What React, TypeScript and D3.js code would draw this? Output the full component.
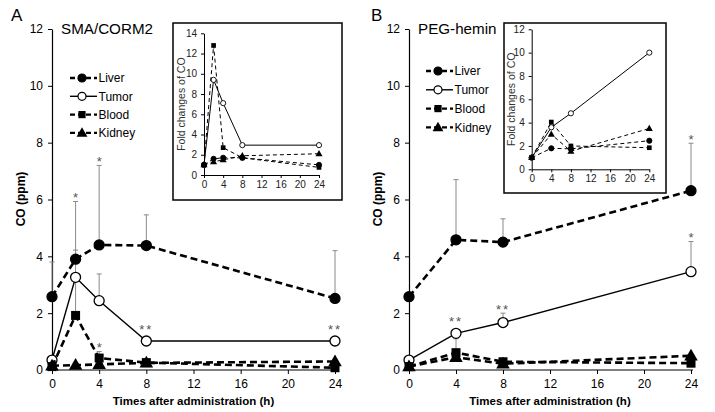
import { useEffect, useRef } from 'react'
import * as d3 from 'd3'

// --- data ---
const seriesNames = ['Liver', 'Tumor', 'Blood', 'Kidney']

// Panel A: SMA/CORM2
const timesA = [0, 2, 4, 8, 24]
const liverA = [2.58, 3.9, 4.4, 4.38, 2.52]
const tumorA = [0.35, 3.26, 2.44, 1.02, 1.02]
const bloodA = [0.12, 1.92, 0.42, 0.26, 0.08]
const kidneyA = [0.15, 0.17, 0.2, 0.25, 0.3]
const liverErrA = [3.8, 5.93, 7.2, 5.46, 4.2]
const tumorErrA = [null, 4.22, 3.38, null, null]
const bloodErrA = [null, 3.2, 0.65, null, null]
const kidneyErrA = [null, null, null, null, null]
const starsA = [
  { series: 'Liver', t: 2, label: '*' },
  { series: 'Liver', t: 4, label: '*' },
  { series: 'Blood', t: 4, label: '*' },
  { series: 'Tumor', t: 8, label: '**' },
  { series: 'Tumor', t: 24, label: '**' },
]
const foldLiverA = [1.0, 1.6, 1.7, 1.7, 1.0]
const foldTumorA = [1.0, 9.4, 7.1, 2.95, 2.95]
const foldBloodA = [1.0, 12.8, 2.7, 1.7, 0.75]
const foldKidneyA = [1.0, 1.3, 1.5, 1.9, 2.1]

// Panel B: PEG-hemin
const timesB = [0, 4, 8, 24]
const liverB = [2.58, 4.58, 4.5, 6.31]
const tumorB = [0.35, 1.29, 1.67, 3.46]
const bloodB = [0.12, 0.61, 0.29, 0.24]
const kidneyB = [0.12, 0.45, 0.22, 0.5]
const liverErrB = [null, 6.7, 5.32, 7.98]
const tumorErrB = [null, null, 2.0, 4.52]
const bloodErrB = [null, 1.1, null, null]
const kidneyErrB = [null, null, null, null]
const starsB = [
  { series: 'Tumor', t: 4, label: '**' },
  { series: 'Tumor', t: 8, label: '**' },
  { series: 'Tumor', t: 24, label: '*' },
  { series: 'Liver', t: 24, label: '*' },
]
const foldLiverB = [1.0, 1.8, 1.75, 2.45]
const foldTumorB = [1.0, 3.6, 4.8, 10.0]
const foldBloodB = [1.0, 4.05, 2.0, 1.85]
const foldKidneyB = [1.0, 3.0, 1.55, 3.5]

const xTicks = [0, 4, 8, 12, 16, 20, 24]
const mainYTicks = [0, 2, 4, 6, 8, 10, 12]

const FONT = '"Liberation Sans", Arial, sans-serif'

const styles = {
  Liver: { marker: 'circle', fill: '#000', dash: '7,4' },
  Tumor: { marker: 'circle', fill: '#fff', dash: null },
  Blood: { marker: 'square', fill: '#000', dash: '7,4' },
  Kidney: { marker: 'triangle', fill: '#000', dash: '7,4' },
}

const drawMarker = (g, kind, cx, cy, r, fill, sw) => {
  if (kind === 'circle') {
    g.append('circle').attr('cx', cx).attr('cy', cy).attr('r', r)
      .attr('fill', fill).attr('stroke', '#000').attr('stroke-width', sw)
  } else if (kind === 'square') {
    g.append('rect').attr('x', cx - r * 0.9).attr('y', cy - r * 0.9)
      .attr('width', r * 1.8).attr('height', r * 1.8).attr('fill', fill)
  } else {
    g.append('path').attr('d', d3.symbol(d3.symbolTriangle, r * r * 3.2)())
      .attr('transform', `translate(${cx},${cy + r * 0.15})`).attr('fill', fill)
  }
}

const drawPanel = (svg, p) => {
  const g = svg.append('g')
  const x = d3.scaleLinear().domain([0, 24]).range(p.xRange)
  const y = d3.scaleLinear().domain([0, 12]).range([370, 29])

  // axes
  const yAxis = g.append('g').attr('transform', `translate(${p.xRange[0]},0)`)
    .call(d3.axisLeft(y).tickValues(mainYTicks).tickSize(4).tickSizeOuter(0).tickPadding(5))
  const xAxis = g.append('g').attr('transform', 'translate(0,370)')
    .call(d3.axisBottom(x).tickValues(xTicks).tickSize(4).tickSizeOuter(0).tickPadding(5))
  ;[yAxis, xAxis].forEach(a => {
    a.selectAll('text').attr('font-family', FONT).attr('font-size', 12).attr('fill', '#000')
    a.select('.domain').attr('stroke', '#000').attr('stroke-width', 1.2)
    a.selectAll('.tick line').attr('stroke', '#000')
  })
  xAxis.select('.domain').attr('d', `M${p.xRange[0]},0H${p.xRange[1] + 2}`)

  g.append('text').attr('x', (p.xRange[0] + p.xRange[1]) / 2).attr('y', 405)
    .attr('text-anchor', 'middle').attr('font-family', FONT).attr('font-weight', 'bold')
    .attr('font-size', 11.5).text('Times after administration (h)')
  g.append('text').attr('transform', `translate(${p.xRange[0] - 27},199) rotate(-90)`)
    .attr('text-anchor', 'middle').attr('font-family', FONT).attr('font-weight', 'bold')
    .attr('font-size', 12).text('CO (ppm)')
  g.append('text').attr('x', p.letterX).attr('y', 21).attr('font-family', FONT)
    .attr('font-size', 17).text(p.letter)
  g.append('text').attr('x', p.titleX).attr('y', 34).attr('font-family', FONT)
    .attr('font-size', 15.2).text(p.title)

  // error bars (upper only)
  seriesNames.forEach((name, si) => {
    p.errs[si].forEach((e, i) => {
      if (e == null) return
      const cx = x(p.times[i])
      g.append('line').attr('x1', cx).attr('x2', cx).attr('y1', y(p.values[si][i])).attr('y2', y(e))
        .attr('stroke', '#8a8a8a').attr('stroke-width', 1)
      g.append('line').attr('x1', cx - 2.5).attr('x2', cx + 2.5).attr('y1', y(e)).attr('y2', y(e))
        .attr('stroke', '#8a8a8a').attr('stroke-width', 1)
    })
  })

  // lines and markers
  const line = d3.line().x(d => x(d[0])).y(d => y(d[1]))
  seriesNames.forEach((name, si) => {
    const st = styles[name]
    const pts = p.times.map((t, i) => [t, p.values[si][i]])
    g.append('path').attr('d', line(pts)).attr('fill', 'none').attr('stroke', '#000')
      .attr('stroke-width', st.dash ? 2.6 : 1.4).attr('stroke-dasharray', st.dash)
    pts.forEach(d => drawMarker(g, st.marker, x(d[0]), y(d[1]), 5, st.fill, 1.3))
  })

  // significance stars
  p.stars.forEach(s => {
    const si = seriesNames.indexOf(s.series)
    const i = p.times.indexOf(s.t)
    const e = p.errs[si][i]
    const cy = e != null ? y(e) - 7 : y(p.values[si][i]) - 15
    g.append('text').attr('x', x(s.t)).attr('y', cy + 7.5).attr('text-anchor', 'middle')
      .attr('font-family', FONT).attr('font-size', 13).attr('fill', '#555')
      .attr('letter-spacing', s.label.length > 1 ? 2 : 0).text(s.label)
  })

  // legend
  seriesNames.forEach((name, si) => {
    const st = styles[name]
    const ly = p.legendY + si * p.legendStep
    g.append('line').attr('x1', p.legendX).attr('x2', p.legendX + 27).attr('y1', ly).attr('y2', ly)
      .attr('stroke', '#000').attr('stroke-width', st.dash ? 2.4 : 1.4)
      .attr('stroke-dasharray', st.dash ? '5,3' : null)
    drawMarker(g, st.marker, p.legendX + 12, ly, 4, st.fill, 1.2)
    g.append('text').attr('x', p.legendX + 28.5).attr('y', ly + 4.3).attr('font-family', FONT)
      .attr('font-size', 12).text(name)
  })

  // inset
  const b = p.inset
  const ig = g.append('g')
  ig.append('rect').attr('x', b.x).attr('y', b.y).attr('width', b.w).attr('height', b.h)
    .attr('fill', '#fff').attr('stroke', '#000').attr('stroke-width', 1.5)
  const ix = d3.scaleLinear().domain([0, 24]).range(b.xr)
  const iy = d3.scaleLinear().domain([0, b.yMax]).range(b.yr)
  const iyAxis = ig.append('g').attr('transform', `translate(${b.xr[0]},0)`)
    .call(d3.axisLeft(iy).tickValues(d3.range(0, b.yMax + 1, 2)).tickSize(3).tickSizeOuter(0).tickPadding(4))
  const ixAxis = ig.append('g').attr('transform', `translate(0,${b.yr[0]})`)
    .call(d3.axisBottom(ix).tickValues(xTicks).tickSize(3).tickSizeOuter(0).tickPadding(3))
  ;[iyAxis, ixAxis].forEach(a => {
    a.selectAll('text').attr('font-family', FONT).attr('font-size', 10).attr('fill', '#222')
    a.select('.domain').attr('stroke', '#000')
    a.selectAll('.tick line').attr('stroke', '#000')
  })
  ig.append('text').attr('transform', `translate(${b.labelX},${(b.yr[0] + b.yr[1]) / 2}) rotate(-90)`)
    .attr('text-anchor', 'middle').attr('font-family', FONT).attr('font-size', 10.5)
    .attr('fill', '#333').text('Fold changes of CO')
  const iline = d3.line().x(d => ix(d[0])).y(d => iy(d[1]))
  seriesNames.forEach((name, si) => {
    const st = styles[name]
    const pts = p.times.map((t, i) => [t, p.folds[si][i]])
    ig.append('path').attr('d', iline(pts)).attr('fill', 'none').attr('stroke', '#000')
      .attr('stroke-width', 1).attr('stroke-dasharray', st.dash ? '4,3' : null)
    pts.forEach(d => drawMarker(ig, st.marker, ix(d[0]), iy(d[1]), 2.6, st.fill, 0.9))
  })
}

const App = () => {
  const ref = useRef(null)
  useEffect(() => {
    const svg = d3.select(ref.current)
    svg.selectAll('*').remove()
    drawPanel(svg, {
      letter: 'A', letterX: 11, title: 'SMA/CORM2', titleX: 61,
      xRange: [52, 335], times: timesA,
      values: [liverA, tumorA, bloodA, kidneyA],
      errs: [liverErrA, tumorErrA, bloodErrA, kidneyErrA],
      stars: starsA,
      folds: [foldLiverA, foldTumorA, foldBloodA, foldKidneyA],
      legendX: 70, legendY: 78, legendStep: 18.3,
      inset: { x: 173, y: 23, w: 169, h: 177, xr: [204, 319], yr: [175, 33.3], yMax: 14, labelX: 185 },
    })
    drawPanel(svg, {
      letter: 'B', letterX: 371, title: 'PEG-hemin', titleX: 418,
      xRange: [409, 691], times: timesB,
      values: [liverB, tumorB, bloodB, kidneyB],
      errs: [liverErrB, tumorErrB, bloodErrB, kidneyErrB],
      stars: starsB,
      folds: [foldLiverB, foldTumorB, foldBloodB, foldKidneyB],
      legendX: 426, legendY: 71, legendStep: 18.8,
      inset: { x: 504, y: 23, w: 162, h: 170, xr: [531.7, 649.3], yr: [169.3, 29.3], yMax: 12, labelX: 515 },
    })
  }, [])

  return (
    <svg ref={ref} width={715} height={412}
      style={{ position: 'absolute', left: 0, top: 0, background: '#fff' }} />
  )
}

export default App
